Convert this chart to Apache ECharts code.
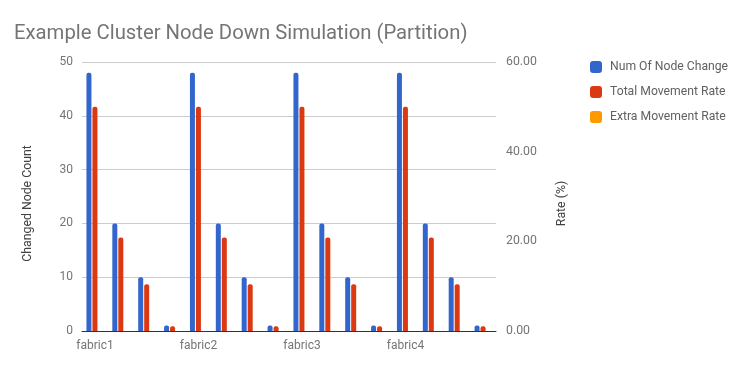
<!DOCTYPE html>
<html>
<head>
<meta charset="utf-8">
<script src="https://cdn.jsdelivr.net/npm/echarts@6/dist/echarts.min.js"></script>
<style>html,body{margin:0;padding:0;background:#fff;}#c{width:748px;height:371px;}</style>
</head>
<body>
<div id="c"></div>
<script>
const categories = ['fabric1','','','','fabric2','','','','fabric3','','','','fabric4','','',''];
const nodeChange = [48,20,10,1,48,20,10,1,48,20,10,1,48,20,10,1];
const totalRate = [50,20.83,10.42,1.04,50,20.83,10.42,1.04,50,20.83,10.42,1.04,50,20.83,10.42,1.04];
const extraRate = [0,0,0,0,0,0,0,0,0,0,0,0,0,0,0,0];
const leftTicks = [0,10,20,30,40,50];
const rightTicks = [0,20,40,60];

const FONT = 'Roboto';
const chart = echarts.init(document.getElementById('c'), null, {renderer:'canvas'});
const barCommon = {barWidth:5, barGap:'20%', itemStyle:{borderRadius:[2,2,0,0]}};
chart.setOption({
  animation:false,
  textStyle:{fontFamily:FONT},
  title:{text:'Example Cluster Node Down Simulation (Partition)', left:9, top:19,
    textStyle:{fontFamily:FONT, fontSize:20.3, fontWeight:'normal', color:'#757575'}},
  legend:{orient:'vertical', left:585, top:56, itemWidth:12, itemHeight:12, itemGap:13,
    icon:'roundRect',
    textStyle:{fontFamily:FONT, fontSize:12.2, color:'#616161', padding:[0,0,0,3]},
    data:['Num Of Node Change','Total Movement Rate','Extra Movement Rate']},
  grid:{left:82, right:252, top:62, bottom:40},
  xAxis:{type:'category', data:categories,
    axisLine:{lineStyle:{color:'#333', width:1}},
    axisTick:{show:false},
    axisLabel:{interval:3, color:'#757575', fontFamily:FONT, fontSize:12, margin:9}},
  yAxis:[
    {type:'value', min:leftTicks[0], max:leftTicks[leftTicks.length-1], interval:10,
      name:'Changed Node Count', nameLocation:'middle', nameGap:48, nameRotate:90,
      nameTextStyle:{fontFamily:FONT, fontSize:12.3, color:'#424242', padding:[0,14,0,0]},
      axisLine:{show:false}, axisTick:{show:false},
      axisLabel:{color:'#757575', fontFamily:FONT, fontSize:12, margin:9},
      splitLine:{lineStyle:{color:'#cccccc'}}},
    {type:'value', position:'right', min:rightTicks[0], max:rightTicks[rightTicks.length-1], interval:20,
      name:'Rate (%)', nameLocation:'middle', nameGap:60, nameRotate:90,
      nameTextStyle:{fontFamily:FONT, fontSize:12.3, color:'#424242', padding:[0,14,0,0]},
      axisLine:{show:false}, axisTick:{show:false},
      axisLabel:{color:'#757575', fontFamily:FONT, fontSize:12.3, margin:10,
        formatter:v=>v.toFixed(2)},
      splitLine:{show:false}}
  ],
  series:[
    Object.assign({name:'Num Of Node Change', type:'bar', yAxisIndex:0, data:nodeChange, color:'#3366cc'}, barCommon),
    Object.assign({name:'Total Movement Rate', type:'bar', yAxisIndex:1, data:totalRate, color:'#dc3912'}, barCommon),
    Object.assign({name:'Extra Movement Rate', type:'bar', yAxisIndex:1, data:extraRate, color:'#ff9900'}, barCommon)
  ]
});
</script>
</body>
</html>
